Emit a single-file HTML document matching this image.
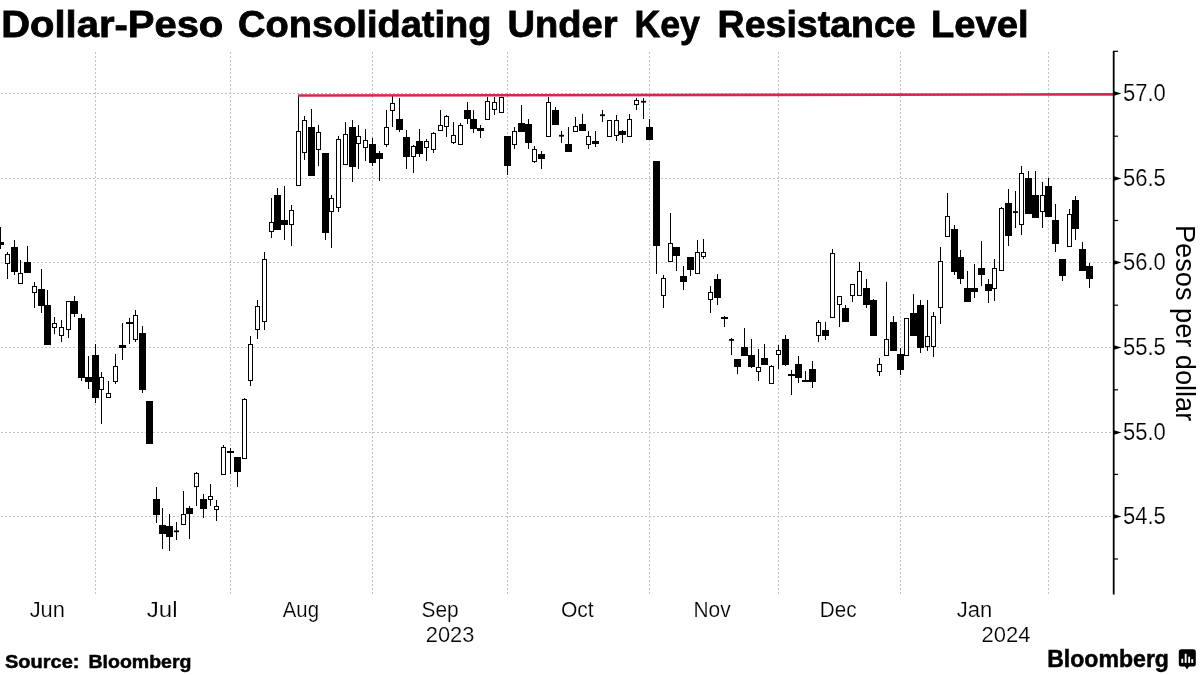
<!DOCTYPE html>
<html><head><meta charset="utf-8"><style>
html,body{margin:0;padding:0;background:#fff;width:1200px;height:675px;overflow:hidden}
svg{position:absolute;left:0;top:0;will-change:transform}
text{font-family:"Liberation Sans",sans-serif;fill:#000}
.thin{stroke:#fff;stroke-width:0.2px}
.heavy{stroke:#000;stroke-width:0.8px}
.semi{stroke:#000;stroke-width:0.5px}
</style></head><body>
<svg width="1200" height="675" viewBox="0 0 1200 675">
<text transform="translate(1.27,36.90) scale(1.0656,1)" font-size="37.5" font-weight="bold" class="heavy">Dollar-Peso</text>
<text transform="translate(238.12,36.90) scale(1.0141,1)" font-size="37.5" font-weight="bold" class="heavy">Consolidating</text>
<text transform="translate(507.57,36.90) scale(1.0160,1)" font-size="37.5" font-weight="bold" class="heavy">Under</text>
<text transform="translate(634.40,36.90) scale(0.9522,1)" font-size="37.5" font-weight="bold" class="heavy">Key</text>
<text transform="translate(717.60,36.90) scale(1.0010,1)" font-size="37.5" font-weight="bold" class="heavy">Resistance</text>
<text transform="translate(931.07,36.90) scale(1.0165,1)" font-size="37.5" font-weight="bold" class="heavy">Level</text>
<line x1="0" y1="93.5" x2="1113" y2="93.5" stroke="#c2c2c2" stroke-width="1" stroke-dasharray="2,2" stroke-dashoffset="3"/>
<line x1="0" y1="178.5" x2="1113" y2="178.5" stroke="#c2c2c2" stroke-width="1" stroke-dasharray="2,2" stroke-dashoffset="3"/>
<line x1="0" y1="262.5" x2="1113" y2="262.5" stroke="#c2c2c2" stroke-width="1" stroke-dasharray="2,2" stroke-dashoffset="3"/>
<line x1="0" y1="347.5" x2="1113" y2="347.5" stroke="#c2c2c2" stroke-width="1" stroke-dasharray="2,2" stroke-dashoffset="3"/>
<line x1="0" y1="432.5" x2="1113" y2="432.5" stroke="#c2c2c2" stroke-width="1" stroke-dasharray="2,2" stroke-dashoffset="3"/>
<line x1="0" y1="516.5" x2="1113" y2="516.5" stroke="#c2c2c2" stroke-width="1" stroke-dasharray="2,2" stroke-dashoffset="3"/>
<line x1="95.5" y1="51" x2="95.5" y2="594" stroke="#c2c2c2" stroke-width="1" stroke-dasharray="2,2" stroke-dashoffset="3"/>
<line x1="230.5" y1="51" x2="230.5" y2="594" stroke="#c2c2c2" stroke-width="1" stroke-dasharray="2,2" stroke-dashoffset="3"/>
<line x1="372.5" y1="51" x2="372.5" y2="594" stroke="#c2c2c2" stroke-width="1" stroke-dasharray="2,2" stroke-dashoffset="3"/>
<line x1="507.5" y1="51" x2="507.5" y2="594" stroke="#c2c2c2" stroke-width="1" stroke-dasharray="2,2" stroke-dashoffset="3"/>
<line x1="649.5" y1="51" x2="649.5" y2="594" stroke="#c2c2c2" stroke-width="1" stroke-dasharray="2,2" stroke-dashoffset="3"/>
<line x1="778.5" y1="51" x2="778.5" y2="594" stroke="#c2c2c2" stroke-width="1" stroke-dasharray="2,2" stroke-dashoffset="3"/>
<line x1="900.5" y1="51" x2="900.5" y2="594" stroke="#c2c2c2" stroke-width="1" stroke-dasharray="2,2" stroke-dashoffset="3"/>
<line x1="1048.5" y1="51" x2="1048.5" y2="594" stroke="#c2c2c2" stroke-width="1" stroke-dasharray="2,2" stroke-dashoffset="3"/>
<line x1="0.5" y1="227" x2="0.5" y2="249" stroke="#000" stroke-width="1"/>
<rect x="-3.0" y="242" width="7" height="3" fill="#000"/>
<line x1="7.5" y1="252" x2="7.5" y2="254" stroke="#000" stroke-width="1"/>
<line x1="7.5" y1="264" x2="7.5" y2="279" stroke="#000" stroke-width="1"/>
<rect x="5.5" y="254.5" width="4" height="9" fill="#fff" stroke="#000" stroke-width="1"/>
<line x1="14.5" y1="240" x2="14.5" y2="275" stroke="#000" stroke-width="1"/>
<rect x="11.0" y="247" width="7" height="25" fill="#000"/>
<line x1="20.5" y1="260" x2="20.5" y2="273" stroke="#000" stroke-width="1"/>
<rect x="18.5" y="273.5" width="4" height="10" fill="#fff" stroke="#000" stroke-width="1"/>
<line x1="27.5" y1="246" x2="27.5" y2="273" stroke="#000" stroke-width="1"/>
<rect x="24.0" y="262" width="7" height="11" fill="#000"/>
<line x1="34.5" y1="282" x2="34.5" y2="286" stroke="#000" stroke-width="1"/>
<line x1="34.5" y1="293" x2="34.5" y2="308" stroke="#000" stroke-width="1"/>
<rect x="32.5" y="286.5" width="4" height="6" fill="#fff" stroke="#000" stroke-width="1"/>
<line x1="41.5" y1="269" x2="41.5" y2="313" stroke="#000" stroke-width="1"/>
<rect x="38.0" y="289" width="7" height="17" fill="#000"/>
<line x1="47.5" y1="290" x2="47.5" y2="345" stroke="#000" stroke-width="1"/>
<rect x="44.0" y="305" width="7" height="40" fill="#000"/>
<line x1="54.5" y1="317" x2="54.5" y2="323" stroke="#000" stroke-width="1"/>
<line x1="54.5" y1="328" x2="54.5" y2="334" stroke="#000" stroke-width="1"/>
<rect x="52.5" y="323.5" width="4" height="4" fill="#fff" stroke="#000" stroke-width="1"/>
<line x1="61.5" y1="320" x2="61.5" y2="327" stroke="#000" stroke-width="1"/>
<line x1="61.5" y1="336" x2="61.5" y2="342" stroke="#000" stroke-width="1"/>
<rect x="59.5" y="327.5" width="4" height="8" fill="#fff" stroke="#000" stroke-width="1"/>
<line x1="68.5" y1="330" x2="68.5" y2="338" stroke="#000" stroke-width="1"/>
<rect x="66.5" y="301.5" width="4" height="28" fill="#fff" stroke="#000" stroke-width="1"/>
<line x1="74.5" y1="296" x2="74.5" y2="317" stroke="#000" stroke-width="1"/>
<rect x="71.0" y="301" width="7" height="13" fill="#000"/>
<line x1="81.5" y1="314" x2="81.5" y2="381" stroke="#000" stroke-width="1"/>
<rect x="78.0" y="318" width="7" height="60" fill="#000"/>
<line x1="88.5" y1="356" x2="88.5" y2="389" stroke="#000" stroke-width="1"/>
<rect x="85.0" y="377" width="7" height="5" fill="#000"/>
<line x1="95.5" y1="344" x2="95.5" y2="403" stroke="#000" stroke-width="1"/>
<rect x="92.0" y="355" width="7" height="43" fill="#000"/>
<line x1="101.5" y1="372" x2="101.5" y2="377" stroke="#000" stroke-width="1"/>
<line x1="101.5" y1="390" x2="101.5" y2="424" stroke="#000" stroke-width="1"/>
<rect x="99.5" y="377.5" width="4" height="12" fill="#fff" stroke="#000" stroke-width="1"/>
<line x1="108.5" y1="381" x2="108.5" y2="393" stroke="#000" stroke-width="1"/>
<rect x="106.5" y="393.5" width="4" height="4" fill="#fff" stroke="#000" stroke-width="1"/>
<line x1="115.5" y1="354" x2="115.5" y2="366" stroke="#000" stroke-width="1"/>
<line x1="115.5" y1="382" x2="115.5" y2="384" stroke="#000" stroke-width="1"/>
<rect x="113.5" y="366.5" width="4" height="15" fill="#fff" stroke="#000" stroke-width="1"/>
<line x1="122.5" y1="323" x2="122.5" y2="360" stroke="#000" stroke-width="1"/>
<rect x="119.0" y="345" width="7" height="3" fill="#000"/>
<line x1="129.5" y1="318" x2="129.5" y2="344" stroke="#000" stroke-width="1"/>
<rect x="126.0" y="322" width="7" height="2" fill="#000"/>
<line x1="135.5" y1="310" x2="135.5" y2="315" stroke="#000" stroke-width="1"/>
<line x1="135.5" y1="340" x2="135.5" y2="342" stroke="#000" stroke-width="1"/>
<rect x="133.5" y="315.5" width="4" height="24" fill="#fff" stroke="#000" stroke-width="1"/>
<line x1="142.5" y1="326" x2="142.5" y2="393" stroke="#000" stroke-width="1"/>
<rect x="139.0" y="333" width="7" height="57" fill="#000"/>
<line x1="149.5" y1="401" x2="149.5" y2="444" stroke="#000" stroke-width="1"/>
<rect x="146.0" y="401" width="7" height="43" fill="#000"/>
<line x1="156.5" y1="487" x2="156.5" y2="523" stroke="#000" stroke-width="1"/>
<rect x="153.0" y="499" width="7" height="16" fill="#000"/>
<line x1="162.5" y1="508" x2="162.5" y2="549" stroke="#000" stroke-width="1"/>
<rect x="159.0" y="525" width="7" height="9" fill="#000"/>
<line x1="169.5" y1="514" x2="169.5" y2="551" stroke="#000" stroke-width="1"/>
<rect x="166.0" y="526" width="7" height="11" fill="#000"/>
<line x1="176.5" y1="522" x2="176.5" y2="540" stroke="#000" stroke-width="1"/>
<rect x="174.0" y="530.4" width="5" height="1.8" fill="#000"/>
<line x1="183.5" y1="491" x2="183.5" y2="514" stroke="#000" stroke-width="1"/>
<rect x="181.5" y="514.5" width="4" height="10" fill="#fff" stroke="#000" stroke-width="1"/>
<line x1="189.5" y1="506" x2="189.5" y2="539" stroke="#000" stroke-width="1"/>
<rect x="186.0" y="508" width="7" height="6" fill="#000"/>
<line x1="196.5" y1="472" x2="196.5" y2="473" stroke="#000" stroke-width="1"/>
<line x1="196.5" y1="487" x2="196.5" y2="506" stroke="#000" stroke-width="1"/>
<rect x="194.5" y="473.5" width="4" height="13" fill="#fff" stroke="#000" stroke-width="1"/>
<line x1="203.5" y1="494" x2="203.5" y2="518" stroke="#000" stroke-width="1"/>
<rect x="200.0" y="499" width="7" height="10" fill="#000"/>
<line x1="210.5" y1="484" x2="210.5" y2="496" stroke="#000" stroke-width="1"/>
<line x1="210.5" y1="500" x2="210.5" y2="506" stroke="#000" stroke-width="1"/>
<rect x="208.5" y="496.5" width="4" height="3" fill="#fff" stroke="#000" stroke-width="1"/>
<line x1="216.5" y1="500" x2="216.5" y2="506" stroke="#000" stroke-width="1"/>
<line x1="216.5" y1="510" x2="216.5" y2="521" stroke="#000" stroke-width="1"/>
<rect x="214.5" y="506.5" width="4" height="3" fill="#fff" stroke="#000" stroke-width="1"/>
<line x1="223.5" y1="445" x2="223.5" y2="447" stroke="#000" stroke-width="1"/>
<rect x="221.5" y="447.5" width="4" height="27" fill="#fff" stroke="#000" stroke-width="1"/>
<line x1="230.5" y1="448" x2="230.5" y2="474" stroke="#000" stroke-width="1"/>
<rect x="227.0" y="451" width="7" height="2" fill="#000"/>
<line x1="237.5" y1="457" x2="237.5" y2="487" stroke="#000" stroke-width="1"/>
<rect x="234.0" y="457" width="7" height="15" fill="#000"/>
<line x1="244.5" y1="398" x2="244.5" y2="399" stroke="#000" stroke-width="1"/>
<rect x="242.5" y="399.5" width="4" height="59" fill="#fff" stroke="#000" stroke-width="1"/>
<line x1="250.5" y1="336" x2="250.5" y2="344" stroke="#000" stroke-width="1"/>
<line x1="250.5" y1="381" x2="250.5" y2="386" stroke="#000" stroke-width="1"/>
<rect x="248.5" y="344.5" width="4" height="36" fill="#fff" stroke="#000" stroke-width="1"/>
<line x1="257.5" y1="300" x2="257.5" y2="306" stroke="#000" stroke-width="1"/>
<line x1="257.5" y1="330" x2="257.5" y2="339" stroke="#000" stroke-width="1"/>
<rect x="255.5" y="306.5" width="4" height="23" fill="#fff" stroke="#000" stroke-width="1"/>
<line x1="264.5" y1="252" x2="264.5" y2="259" stroke="#000" stroke-width="1"/>
<line x1="264.5" y1="322" x2="264.5" y2="330" stroke="#000" stroke-width="1"/>
<rect x="262.5" y="259.5" width="4" height="62" fill="#fff" stroke="#000" stroke-width="1"/>
<line x1="271.5" y1="198" x2="271.5" y2="222" stroke="#000" stroke-width="1"/>
<line x1="271.5" y1="232" x2="271.5" y2="238" stroke="#000" stroke-width="1"/>
<rect x="269.5" y="222.5" width="4" height="9" fill="#fff" stroke="#000" stroke-width="1"/>
<line x1="277.5" y1="188" x2="277.5" y2="230" stroke="#000" stroke-width="1"/>
<rect x="274.0" y="195" width="7" height="35" fill="#000"/>
<line x1="284.5" y1="186" x2="284.5" y2="240" stroke="#000" stroke-width="1"/>
<rect x="281.0" y="220" width="7" height="5" fill="#000"/>
<line x1="291.5" y1="205" x2="291.5" y2="210" stroke="#000" stroke-width="1"/>
<line x1="291.5" y1="225" x2="291.5" y2="246" stroke="#000" stroke-width="1"/>
<rect x="289.5" y="210.5" width="4" height="14" fill="#fff" stroke="#000" stroke-width="1"/>
<line x1="298.5" y1="95" x2="298.5" y2="131" stroke="#000" stroke-width="1"/>
<rect x="296.5" y="131.5" width="4" height="54" fill="#fff" stroke="#000" stroke-width="1"/>
<line x1="304.5" y1="116" x2="304.5" y2="120" stroke="#000" stroke-width="1"/>
<line x1="304.5" y1="153" x2="304.5" y2="160" stroke="#000" stroke-width="1"/>
<rect x="302.5" y="120.5" width="4" height="32" fill="#fff" stroke="#000" stroke-width="1"/>
<line x1="311.5" y1="109" x2="311.5" y2="176" stroke="#000" stroke-width="1"/>
<rect x="308.0" y="127" width="7" height="49" fill="#000"/>
<line x1="318.5" y1="125" x2="318.5" y2="132" stroke="#000" stroke-width="1"/>
<line x1="318.5" y1="150" x2="318.5" y2="166" stroke="#000" stroke-width="1"/>
<rect x="316.5" y="132.5" width="4" height="17" fill="#fff" stroke="#000" stroke-width="1"/>
<line x1="325.5" y1="153" x2="325.5" y2="240" stroke="#000" stroke-width="1"/>
<rect x="322.0" y="153" width="7" height="80" fill="#000"/>
<line x1="331.5" y1="195" x2="331.5" y2="198" stroke="#000" stroke-width="1"/>
<line x1="331.5" y1="212" x2="331.5" y2="248" stroke="#000" stroke-width="1"/>
<rect x="329.5" y="198.5" width="4" height="13" fill="#fff" stroke="#000" stroke-width="1"/>
<line x1="338.5" y1="136" x2="338.5" y2="139" stroke="#000" stroke-width="1"/>
<line x1="338.5" y1="208" x2="338.5" y2="212" stroke="#000" stroke-width="1"/>
<rect x="336.5" y="139.5" width="4" height="68" fill="#fff" stroke="#000" stroke-width="1"/>
<line x1="345.5" y1="122" x2="345.5" y2="134" stroke="#000" stroke-width="1"/>
<rect x="343.5" y="134.5" width="4" height="30" fill="#fff" stroke="#000" stroke-width="1"/>
<line x1="352.5" y1="120" x2="352.5" y2="182" stroke="#000" stroke-width="1"/>
<rect x="349.0" y="127" width="7" height="40" fill="#000"/>
<line x1="358.5" y1="125" x2="358.5" y2="136" stroke="#000" stroke-width="1"/>
<line x1="358.5" y1="144" x2="358.5" y2="169" stroke="#000" stroke-width="1"/>
<rect x="356.5" y="136.5" width="4" height="7" fill="#fff" stroke="#000" stroke-width="1"/>
<line x1="365.5" y1="129" x2="365.5" y2="140" stroke="#000" stroke-width="1"/>
<line x1="365.5" y1="148" x2="365.5" y2="161" stroke="#000" stroke-width="1"/>
<rect x="363.5" y="140.5" width="4" height="7" fill="#fff" stroke="#000" stroke-width="1"/>
<line x1="372.5" y1="138" x2="372.5" y2="166" stroke="#000" stroke-width="1"/>
<rect x="369.0" y="144" width="7" height="19" fill="#000"/>
<line x1="379.5" y1="151" x2="379.5" y2="181" stroke="#000" stroke-width="1"/>
<rect x="376.0" y="153" width="7" height="6" fill="#000"/>
<line x1="386.5" y1="110" x2="386.5" y2="127" stroke="#000" stroke-width="1"/>
<line x1="386.5" y1="145" x2="386.5" y2="147" stroke="#000" stroke-width="1"/>
<rect x="384.5" y="127.5" width="4" height="17" fill="#fff" stroke="#000" stroke-width="1"/>
<line x1="392.5" y1="96" x2="392.5" y2="103" stroke="#000" stroke-width="1"/>
<line x1="392.5" y1="111" x2="392.5" y2="127" stroke="#000" stroke-width="1"/>
<rect x="390.5" y="103.5" width="4" height="7" fill="#fff" stroke="#000" stroke-width="1"/>
<line x1="399.5" y1="98" x2="399.5" y2="132" stroke="#000" stroke-width="1"/>
<rect x="396.0" y="119" width="7" height="11" fill="#000"/>
<line x1="406.5" y1="130" x2="406.5" y2="169" stroke="#000" stroke-width="1"/>
<rect x="403.0" y="137" width="7" height="20" fill="#000"/>
<line x1="413.5" y1="145" x2="413.5" y2="146" stroke="#000" stroke-width="1"/>
<line x1="413.5" y1="157" x2="413.5" y2="173" stroke="#000" stroke-width="1"/>
<rect x="411.5" y="146.5" width="4" height="10" fill="#fff" stroke="#000" stroke-width="1"/>
<line x1="419.5" y1="129" x2="419.5" y2="157" stroke="#000" stroke-width="1"/>
<rect x="416.0" y="141" width="7" height="13" fill="#000"/>
<line x1="426.5" y1="139" x2="426.5" y2="141" stroke="#000" stroke-width="1"/>
<line x1="426.5" y1="148" x2="426.5" y2="161" stroke="#000" stroke-width="1"/>
<rect x="424.5" y="141.5" width="4" height="6" fill="#fff" stroke="#000" stroke-width="1"/>
<line x1="433.5" y1="132" x2="433.5" y2="133" stroke="#000" stroke-width="1"/>
<line x1="433.5" y1="150" x2="433.5" y2="153" stroke="#000" stroke-width="1"/>
<rect x="431.5" y="133.5" width="4" height="16" fill="#fff" stroke="#000" stroke-width="1"/>
<line x1="440.5" y1="110" x2="440.5" y2="125" stroke="#000" stroke-width="1"/>
<rect x="438.5" y="125.5" width="4" height="5" fill="#fff" stroke="#000" stroke-width="1"/>
<line x1="446.5" y1="115" x2="446.5" y2="116" stroke="#000" stroke-width="1"/>
<line x1="446.5" y1="127" x2="446.5" y2="137" stroke="#000" stroke-width="1"/>
<rect x="444.5" y="116.5" width="4" height="10" fill="#fff" stroke="#000" stroke-width="1"/>
<line x1="453.5" y1="122" x2="453.5" y2="135" stroke="#000" stroke-width="1"/>
<line x1="453.5" y1="143" x2="453.5" y2="144" stroke="#000" stroke-width="1"/>
<rect x="451.5" y="135.5" width="4" height="7" fill="#fff" stroke="#000" stroke-width="1"/>
<line x1="460.5" y1="123" x2="460.5" y2="125" stroke="#000" stroke-width="1"/>
<rect x="458.5" y="125.5" width="4" height="19" fill="#fff" stroke="#000" stroke-width="1"/>
<line x1="467.5" y1="102" x2="467.5" y2="124" stroke="#000" stroke-width="1"/>
<rect x="464.0" y="110" width="7" height="9" fill="#000"/>
<line x1="473.5" y1="110" x2="473.5" y2="133" stroke="#000" stroke-width="1"/>
<rect x="470.0" y="119" width="7" height="10" fill="#000"/>
<line x1="480.5" y1="125" x2="480.5" y2="138" stroke="#000" stroke-width="1"/>
<rect x="477.0" y="128" width="7" height="3" fill="#000"/>
<line x1="487.5" y1="97" x2="487.5" y2="101" stroke="#000" stroke-width="1"/>
<rect x="485.5" y="101.5" width="4" height="18" fill="#fff" stroke="#000" stroke-width="1"/>
<line x1="494.5" y1="97" x2="494.5" y2="102" stroke="#000" stroke-width="1"/>
<line x1="494.5" y1="110" x2="494.5" y2="115" stroke="#000" stroke-width="1"/>
<rect x="492.5" y="102.5" width="4" height="7" fill="#fff" stroke="#000" stroke-width="1"/>
<rect x="499.5" y="97.5" width="4" height="15" fill="#fff" stroke="#000" stroke-width="1"/>
<line x1="507.5" y1="136" x2="507.5" y2="175" stroke="#000" stroke-width="1"/>
<rect x="504.0" y="136" width="7" height="30" fill="#000"/>
<line x1="514.5" y1="127" x2="514.5" y2="131" stroke="#000" stroke-width="1"/>
<line x1="514.5" y1="145" x2="514.5" y2="149" stroke="#000" stroke-width="1"/>
<rect x="512.5" y="131.5" width="4" height="13" fill="#fff" stroke="#000" stroke-width="1"/>
<line x1="521.5" y1="105" x2="521.5" y2="132" stroke="#000" stroke-width="1"/>
<rect x="518.0" y="123" width="7" height="9" fill="#000"/>
<line x1="528.5" y1="119" x2="528.5" y2="149" stroke="#000" stroke-width="1"/>
<rect x="525.0" y="124" width="7" height="19" fill="#000"/>
<line x1="534.5" y1="146" x2="534.5" y2="149" stroke="#000" stroke-width="1"/>
<line x1="534.5" y1="162" x2="534.5" y2="163" stroke="#000" stroke-width="1"/>
<rect x="532.5" y="149.5" width="4" height="12" fill="#fff" stroke="#000" stroke-width="1"/>
<line x1="541.5" y1="151" x2="541.5" y2="169" stroke="#000" stroke-width="1"/>
<rect x="538.0" y="154" width="7" height="5" fill="#000"/>
<line x1="548.5" y1="97" x2="548.5" y2="102" stroke="#000" stroke-width="1"/>
<rect x="546.5" y="102.5" width="4" height="34" fill="#fff" stroke="#000" stroke-width="1"/>
<line x1="555.5" y1="107" x2="555.5" y2="125" stroke="#000" stroke-width="1"/>
<rect x="552.0" y="110" width="7" height="15" fill="#000"/>
<line x1="561.5" y1="131" x2="561.5" y2="143" stroke="#000" stroke-width="1"/>
<rect x="559.0" y="134.8" width="5" height="1.8" fill="#000"/>
<line x1="568.5" y1="127" x2="568.5" y2="152" stroke="#000" stroke-width="1"/>
<rect x="565.0" y="144" width="7" height="8" fill="#000"/>
<line x1="575.5" y1="117" x2="575.5" y2="126" stroke="#000" stroke-width="1"/>
<rect x="573.5" y="126.5" width="4" height="5" fill="#fff" stroke="#000" stroke-width="1"/>
<line x1="582.5" y1="114" x2="582.5" y2="131" stroke="#000" stroke-width="1"/>
<rect x="579.0" y="124" width="7" height="7" fill="#000"/>
<line x1="588.5" y1="131" x2="588.5" y2="136" stroke="#000" stroke-width="1"/>
<line x1="588.5" y1="145" x2="588.5" y2="149" stroke="#000" stroke-width="1"/>
<rect x="586.5" y="136.5" width="4" height="8" fill="#fff" stroke="#000" stroke-width="1"/>
<line x1="595.5" y1="131" x2="595.5" y2="147" stroke="#000" stroke-width="1"/>
<rect x="592.0" y="141" width="7" height="3" fill="#000"/>
<line x1="602.5" y1="110" x2="602.5" y2="122" stroke="#000" stroke-width="1"/>
<rect x="600.0" y="114.3" width="5" height="1.8" fill="#000"/>
<rect x="607.5" y="120.5" width="4" height="16" fill="#fff" stroke="#000" stroke-width="1"/>
<line x1="616.5" y1="115" x2="616.5" y2="120" stroke="#000" stroke-width="1"/>
<line x1="616.5" y1="136" x2="616.5" y2="141" stroke="#000" stroke-width="1"/>
<rect x="614.5" y="120.5" width="4" height="15" fill="#fff" stroke="#000" stroke-width="1"/>
<line x1="622.5" y1="130" x2="622.5" y2="143" stroke="#000" stroke-width="1"/>
<rect x="619.0" y="131" width="7" height="4" fill="#000"/>
<line x1="629.5" y1="114" x2="629.5" y2="119" stroke="#000" stroke-width="1"/>
<rect x="627.5" y="119.5" width="4" height="17" fill="#fff" stroke="#000" stroke-width="1"/>
<line x1="636.5" y1="98" x2="636.5" y2="100" stroke="#000" stroke-width="1"/>
<line x1="636.5" y1="105" x2="636.5" y2="110" stroke="#000" stroke-width="1"/>
<rect x="634.5" y="100.5" width="4" height="4" fill="#fff" stroke="#000" stroke-width="1"/>
<line x1="643.5" y1="98" x2="643.5" y2="119" stroke="#000" stroke-width="1"/>
<rect x="641.0" y="100.8" width="5" height="1.8" fill="#000"/>
<line x1="649.5" y1="119" x2="649.5" y2="140" stroke="#000" stroke-width="1"/>
<rect x="646.0" y="127" width="7" height="13" fill="#000"/>
<line x1="656.5" y1="161" x2="656.5" y2="274" stroke="#000" stroke-width="1"/>
<rect x="653.0" y="161" width="7" height="85" fill="#000"/>
<line x1="663.5" y1="275" x2="663.5" y2="278" stroke="#000" stroke-width="1"/>
<line x1="663.5" y1="296" x2="663.5" y2="308" stroke="#000" stroke-width="1"/>
<rect x="661.5" y="278.5" width="4" height="17" fill="#fff" stroke="#000" stroke-width="1"/>
<line x1="670.5" y1="213" x2="670.5" y2="243" stroke="#000" stroke-width="1"/>
<rect x="668.5" y="243.5" width="4" height="18" fill="#fff" stroke="#000" stroke-width="1"/>
<line x1="676.5" y1="247" x2="676.5" y2="271" stroke="#000" stroke-width="1"/>
<rect x="673.0" y="247" width="7" height="9" fill="#000"/>
<line x1="683.5" y1="266" x2="683.5" y2="290" stroke="#000" stroke-width="1"/>
<rect x="680.0" y="276" width="7" height="6" fill="#000"/>
<line x1="690.5" y1="257" x2="690.5" y2="276" stroke="#000" stroke-width="1"/>
<rect x="687.0" y="257" width="7" height="13" fill="#000"/>
<line x1="697.5" y1="240" x2="697.5" y2="252" stroke="#000" stroke-width="1"/>
<rect x="695.5" y="252.5" width="4" height="21" fill="#fff" stroke="#000" stroke-width="1"/>
<line x1="703.5" y1="239" x2="703.5" y2="252" stroke="#000" stroke-width="1"/>
<line x1="703.5" y1="257" x2="703.5" y2="259" stroke="#000" stroke-width="1"/>
<rect x="701.5" y="252.5" width="4" height="4" fill="#fff" stroke="#000" stroke-width="1"/>
<line x1="710.5" y1="286" x2="710.5" y2="292" stroke="#000" stroke-width="1"/>
<line x1="710.5" y1="300" x2="710.5" y2="313" stroke="#000" stroke-width="1"/>
<rect x="708.5" y="292.5" width="4" height="7" fill="#fff" stroke="#000" stroke-width="1"/>
<line x1="717.5" y1="274" x2="717.5" y2="305" stroke="#000" stroke-width="1"/>
<rect x="714.0" y="279" width="7" height="19" fill="#000"/>
<line x1="724.5" y1="316" x2="724.5" y2="327" stroke="#000" stroke-width="1"/>
<rect x="721.0" y="317" width="7" height="2" fill="#000"/>
<line x1="731.5" y1="338" x2="731.5" y2="355" stroke="#000" stroke-width="1"/>
<rect x="729.0" y="339.0" width="5" height="1.8" fill="#000"/>
<line x1="737.5" y1="359" x2="737.5" y2="374" stroke="#000" stroke-width="1"/>
<rect x="734.0" y="359" width="7" height="8" fill="#000"/>
<line x1="744.5" y1="328" x2="744.5" y2="356" stroke="#000" stroke-width="1"/>
<rect x="741.0" y="347" width="7" height="9" fill="#000"/>
<line x1="751.5" y1="339" x2="751.5" y2="368" stroke="#000" stroke-width="1"/>
<rect x="748.0" y="355" width="7" height="12" fill="#000"/>
<line x1="758.5" y1="349" x2="758.5" y2="367" stroke="#000" stroke-width="1"/>
<line x1="758.5" y1="372" x2="758.5" y2="381" stroke="#000" stroke-width="1"/>
<rect x="756.5" y="367.5" width="4" height="4" fill="#fff" stroke="#000" stroke-width="1"/>
<line x1="764.5" y1="344" x2="764.5" y2="365" stroke="#000" stroke-width="1"/>
<rect x="761.0" y="358" width="7" height="7" fill="#000"/>
<line x1="771.5" y1="365" x2="771.5" y2="366" stroke="#000" stroke-width="1"/>
<rect x="769.5" y="366.5" width="4" height="17" fill="#fff" stroke="#000" stroke-width="1"/>
<line x1="778.5" y1="345" x2="778.5" y2="350" stroke="#000" stroke-width="1"/>
<line x1="778.5" y1="355" x2="778.5" y2="369" stroke="#000" stroke-width="1"/>
<rect x="776.5" y="350.5" width="4" height="4" fill="#fff" stroke="#000" stroke-width="1"/>
<line x1="785.5" y1="335" x2="785.5" y2="366" stroke="#000" stroke-width="1"/>
<rect x="782.0" y="339" width="7" height="26" fill="#000"/>
<line x1="791.5" y1="370" x2="791.5" y2="395" stroke="#000" stroke-width="1"/>
<rect x="788.0" y="374" width="7" height="2" fill="#000"/>
<line x1="798.5" y1="356" x2="798.5" y2="383" stroke="#000" stroke-width="1"/>
<rect x="795.0" y="364" width="7" height="14" fill="#000"/>
<line x1="805.5" y1="371" x2="805.5" y2="382" stroke="#000" stroke-width="1"/>
<rect x="802.0" y="380" width="7" height="2" fill="#000"/>
<line x1="812.5" y1="361" x2="812.5" y2="388" stroke="#000" stroke-width="1"/>
<rect x="809.0" y="369" width="7" height="13" fill="#000"/>
<line x1="818.5" y1="320" x2="818.5" y2="322" stroke="#000" stroke-width="1"/>
<line x1="818.5" y1="336" x2="818.5" y2="342" stroke="#000" stroke-width="1"/>
<rect x="816.5" y="322.5" width="4" height="13" fill="#fff" stroke="#000" stroke-width="1"/>
<line x1="825.5" y1="322" x2="825.5" y2="340" stroke="#000" stroke-width="1"/>
<rect x="822.0" y="330" width="7" height="6" fill="#000"/>
<line x1="832.5" y1="249" x2="832.5" y2="253" stroke="#000" stroke-width="1"/>
<rect x="830.5" y="253.5" width="4" height="64" fill="#fff" stroke="#000" stroke-width="1"/>
<line x1="839.5" y1="305" x2="839.5" y2="327" stroke="#000" stroke-width="1"/>
<rect x="837.5" y="296.5" width="4" height="8" fill="#fff" stroke="#000" stroke-width="1"/>
<line x1="845.5" y1="305" x2="845.5" y2="322" stroke="#000" stroke-width="1"/>
<rect x="842.0" y="308" width="7" height="14" fill="#000"/>
<line x1="852.5" y1="296" x2="852.5" y2="302" stroke="#000" stroke-width="1"/>
<rect x="850.5" y="284.5" width="4" height="11" fill="#fff" stroke="#000" stroke-width="1"/>
<line x1="859.5" y1="262" x2="859.5" y2="271" stroke="#000" stroke-width="1"/>
<rect x="857.5" y="271.5" width="4" height="24" fill="#fff" stroke="#000" stroke-width="1"/>
<line x1="866.5" y1="279" x2="866.5" y2="308" stroke="#000" stroke-width="1"/>
<rect x="863.0" y="288" width="7" height="17" fill="#000"/>
<line x1="873.5" y1="299" x2="873.5" y2="336" stroke="#000" stroke-width="1"/>
<rect x="870.0" y="300" width="7" height="36" fill="#000"/>
<line x1="879.5" y1="358" x2="879.5" y2="364" stroke="#000" stroke-width="1"/>
<line x1="879.5" y1="372" x2="879.5" y2="376" stroke="#000" stroke-width="1"/>
<rect x="877.5" y="364.5" width="4" height="7" fill="#fff" stroke="#000" stroke-width="1"/>
<line x1="886.5" y1="282" x2="886.5" y2="339" stroke="#000" stroke-width="1"/>
<rect x="884.5" y="339.5" width="4" height="16" fill="#fff" stroke="#000" stroke-width="1"/>
<line x1="893.5" y1="316" x2="893.5" y2="351" stroke="#000" stroke-width="1"/>
<rect x="890.0" y="322" width="7" height="29" fill="#000"/>
<line x1="900.5" y1="348" x2="900.5" y2="375" stroke="#000" stroke-width="1"/>
<rect x="897.0" y="354" width="7" height="16" fill="#000"/>
<rect x="904.5" y="318.5" width="4" height="37" fill="#fff" stroke="#000" stroke-width="1"/>
<line x1="913.5" y1="294" x2="913.5" y2="336" stroke="#000" stroke-width="1"/>
<rect x="910.0" y="313" width="7" height="23" fill="#000"/>
<line x1="920.5" y1="300" x2="920.5" y2="353" stroke="#000" stroke-width="1"/>
<rect x="917.0" y="305" width="7" height="43" fill="#000"/>
<line x1="927.5" y1="300" x2="927.5" y2="336" stroke="#000" stroke-width="1"/>
<line x1="927.5" y1="347" x2="927.5" y2="351" stroke="#000" stroke-width="1"/>
<rect x="925.5" y="336.5" width="4" height="10" fill="#fff" stroke="#000" stroke-width="1"/>
<line x1="933.5" y1="312" x2="933.5" y2="316" stroke="#000" stroke-width="1"/>
<line x1="933.5" y1="347" x2="933.5" y2="357" stroke="#000" stroke-width="1"/>
<rect x="931.5" y="316.5" width="4" height="30" fill="#fff" stroke="#000" stroke-width="1"/>
<line x1="940.5" y1="247" x2="940.5" y2="261" stroke="#000" stroke-width="1"/>
<line x1="940.5" y1="308" x2="940.5" y2="324" stroke="#000" stroke-width="1"/>
<rect x="938.5" y="261.5" width="4" height="46" fill="#fff" stroke="#000" stroke-width="1"/>
<line x1="947.5" y1="193" x2="947.5" y2="216" stroke="#000" stroke-width="1"/>
<rect x="945.5" y="216.5" width="4" height="20" fill="#fff" stroke="#000" stroke-width="1"/>
<line x1="954.5" y1="225" x2="954.5" y2="275" stroke="#000" stroke-width="1"/>
<rect x="951.0" y="229" width="7" height="43" fill="#000"/>
<line x1="960.5" y1="250" x2="960.5" y2="284" stroke="#000" stroke-width="1"/>
<rect x="957.0" y="257" width="7" height="22" fill="#000"/>
<line x1="967.5" y1="271" x2="967.5" y2="302" stroke="#000" stroke-width="1"/>
<rect x="964.0" y="288" width="7" height="14" fill="#000"/>
<line x1="974.5" y1="264" x2="974.5" y2="298" stroke="#000" stroke-width="1"/>
<rect x="971.0" y="288" width="7" height="4" fill="#000"/>
<line x1="981.5" y1="241" x2="981.5" y2="286" stroke="#000" stroke-width="1"/>
<rect x="978.0" y="268" width="7" height="7" fill="#000"/>
<line x1="988.5" y1="279" x2="988.5" y2="303" stroke="#000" stroke-width="1"/>
<rect x="985.0" y="284" width="7" height="7" fill="#000"/>
<line x1="994.5" y1="259" x2="994.5" y2="268" stroke="#000" stroke-width="1"/>
<line x1="994.5" y1="289" x2="994.5" y2="301" stroke="#000" stroke-width="1"/>
<rect x="992.5" y="268.5" width="4" height="20" fill="#fff" stroke="#000" stroke-width="1"/>
<line x1="1001.5" y1="207" x2="1001.5" y2="208" stroke="#000" stroke-width="1"/>
<rect x="999.5" y="208.5" width="4" height="62" fill="#fff" stroke="#000" stroke-width="1"/>
<line x1="1008.5" y1="189" x2="1008.5" y2="246" stroke="#000" stroke-width="1"/>
<rect x="1005.0" y="203" width="7" height="33" fill="#000"/>
<line x1="1015.5" y1="191" x2="1015.5" y2="228" stroke="#000" stroke-width="1"/>
<rect x="1013.0" y="211.2" width="5" height="1.8" fill="#000"/>
<line x1="1021.5" y1="166" x2="1021.5" y2="173" stroke="#000" stroke-width="1"/>
<line x1="1021.5" y1="225" x2="1021.5" y2="235" stroke="#000" stroke-width="1"/>
<rect x="1019.5" y="173.5" width="4" height="51" fill="#fff" stroke="#000" stroke-width="1"/>
<line x1="1028.5" y1="171" x2="1028.5" y2="214" stroke="#000" stroke-width="1"/>
<rect x="1025.0" y="178" width="7" height="36" fill="#000"/>
<line x1="1035.5" y1="171" x2="1035.5" y2="218" stroke="#000" stroke-width="1"/>
<rect x="1032.0" y="195" width="7" height="23" fill="#000"/>
<line x1="1042.5" y1="182" x2="1042.5" y2="195" stroke="#000" stroke-width="1"/>
<line x1="1042.5" y1="212" x2="1042.5" y2="228" stroke="#000" stroke-width="1"/>
<rect x="1040.5" y="195.5" width="4" height="16" fill="#fff" stroke="#000" stroke-width="1"/>
<line x1="1048.5" y1="178" x2="1048.5" y2="217" stroke="#000" stroke-width="1"/>
<rect x="1045.0" y="186" width="7" height="31" fill="#000"/>
<line x1="1055.5" y1="204" x2="1055.5" y2="252" stroke="#000" stroke-width="1"/>
<rect x="1052.0" y="220" width="7" height="24" fill="#000"/>
<line x1="1062.5" y1="259" x2="1062.5" y2="281" stroke="#000" stroke-width="1"/>
<rect x="1059.0" y="259" width="7" height="17" fill="#000"/>
<line x1="1069.5" y1="209" x2="1069.5" y2="214" stroke="#000" stroke-width="1"/>
<rect x="1067.5" y="214.5" width="4" height="32" fill="#fff" stroke="#000" stroke-width="1"/>
<line x1="1075.5" y1="196" x2="1075.5" y2="240" stroke="#000" stroke-width="1"/>
<rect x="1072.0" y="200" width="7" height="29" fill="#000"/>
<line x1="1082.5" y1="242" x2="1082.5" y2="271" stroke="#000" stroke-width="1"/>
<rect x="1079.0" y="249" width="7" height="22" fill="#000"/>
<line x1="1089.5" y1="263" x2="1089.5" y2="288" stroke="#000" stroke-width="1"/>
<rect x="1086.0" y="266" width="7" height="13" fill="#000"/>
<line x1="298" y1="95.5" x2="1113" y2="94.4" stroke="#d3284f" stroke-width="2.6"/>
<line x1="1113.7" y1="51" x2="1113.7" y2="594.5" stroke="#000" stroke-width="1.8"/>
<path d="M1114,91.3 L1121.5,93.5 L1114,95.7Z" fill="#000"/>
<text transform="translate(1122.92,101.00) scale(0.9174,1)" font-size="24" font-weight="normal" class="thin">57.0</text>
<path d="M1114,176.3 L1121.5,178.5 L1114,180.7Z" fill="#000"/>
<text transform="translate(1122.92,186.00) scale(0.9174,1)" font-size="24" font-weight="normal" class="thin">56.5</text>
<path d="M1114,260.3 L1121.5,262.5 L1114,264.7Z" fill="#000"/>
<text transform="translate(1122.92,270.00) scale(0.9174,1)" font-size="24" font-weight="normal" class="thin">56.0</text>
<path d="M1114,345.3 L1121.5,347.5 L1114,349.7Z" fill="#000"/>
<text transform="translate(1122.92,355.00) scale(0.9174,1)" font-size="24" font-weight="normal" class="thin">55.5</text>
<path d="M1114,430.3 L1121.5,432.5 L1114,434.7Z" fill="#000"/>
<text transform="translate(1122.92,440.00) scale(0.9174,1)" font-size="24" font-weight="normal" class="thin">55.0</text>
<path d="M1114,514.3 L1121.5,516.5 L1114,518.7Z" fill="#000"/>
<text transform="translate(1122.92,524.00) scale(0.9174,1)" font-size="24" font-weight="normal" class="thin">54.5</text>
<line x1="1113" y1="51.3" x2="1118" y2="51.3" stroke="#000" stroke-width="1.2"/>
<line x1="1113" y1="136.2" x2="1118" y2="136.2" stroke="#000" stroke-width="1.2"/>
<line x1="1113" y1="220.5" x2="1118" y2="220.5" stroke="#000" stroke-width="1.2"/>
<line x1="1113" y1="305.2" x2="1118" y2="305.2" stroke="#000" stroke-width="1.2"/>
<line x1="1113" y1="389.8" x2="1118" y2="389.8" stroke="#000" stroke-width="1.2"/>
<line x1="1113" y1="474.4" x2="1118" y2="474.4" stroke="#000" stroke-width="1.2"/>
<line x1="1113" y1="559.0" x2="1118" y2="559.0" stroke="#000" stroke-width="1.2"/>
<text transform="translate(29.65,617.00) scale(0.9947,1)" font-size="22" font-weight="normal" class="thin">Jun</text>
<text transform="translate(146.75,617.00) scale(1.0997,1)" font-size="22" font-weight="normal" class="thin">Jul</text>
<text transform="translate(282.80,617.00) scale(0.9252,1)" font-size="22" font-weight="normal" class="thin">Aug</text>
<text transform="translate(421.59,617.00) scale(0.9490,1)" font-size="22" font-weight="normal" class="thin">Sep</text>
<text transform="translate(560.99,617.00) scale(0.9558,1)" font-size="22" font-weight="normal" class="thin">Oct</text>
<text transform="translate(693.38,617.00) scale(0.9516,1)" font-size="22" font-weight="normal" class="thin">Nov</text>
<text transform="translate(819.70,617.00) scale(0.9409,1)" font-size="22" font-weight="normal" class="thin">Dec</text>
<text transform="translate(956.74,617.00) scale(1.0036,1)" font-size="22" font-weight="normal" class="thin">Jan</text>
<text transform="translate(425.75,641.80) scale(0.9921,1)" font-size="22" font-weight="normal" class="thin">2023</text>
<text transform="translate(981.44,641.80) scale(1.0006,1)" font-size="22" font-weight="normal" class="thin">2024</text>
<g transform="translate(1176,0) rotate(90)"><text transform="translate(224.99,0) scale(1.0062,1)" font-size="27">Pesos per dollar</text></g>
<text transform="translate(5.00,667.90) scale(1.0529,1)" font-size="19" font-weight="bold" class="semi">Source:</text><text transform="translate(88.42,667.90) scale(1.0286,1)" font-size="19" font-weight="bold" class="semi">Bloomberg</text>
<text transform="translate(1047.15,666.70) scale(0.9423,1)" font-size="24.5" font-weight="bold" class="semi">Bloomberg</text>
<rect x="1178.8" y="649.3" width="17" height="17.2" rx="2.5" fill="#000"/>
<path d="M1184.8,666 L1187,669.6 L1189.3,666Z" fill="#000"/>
<rect x="1181.3" y="658.8" width="1.9" height="4.1" fill="#fff"/>
<rect x="1184.7" y="653.8" width="1.9" height="9.1" fill="#fff"/>
<rect x="1188.2" y="656.7" width="1.9" height="6.2" fill="#fff"/>
<rect x="1191.3" y="659.2" width="1.9" height="3.7" fill="#fff"/>
</svg>
</body></html>
